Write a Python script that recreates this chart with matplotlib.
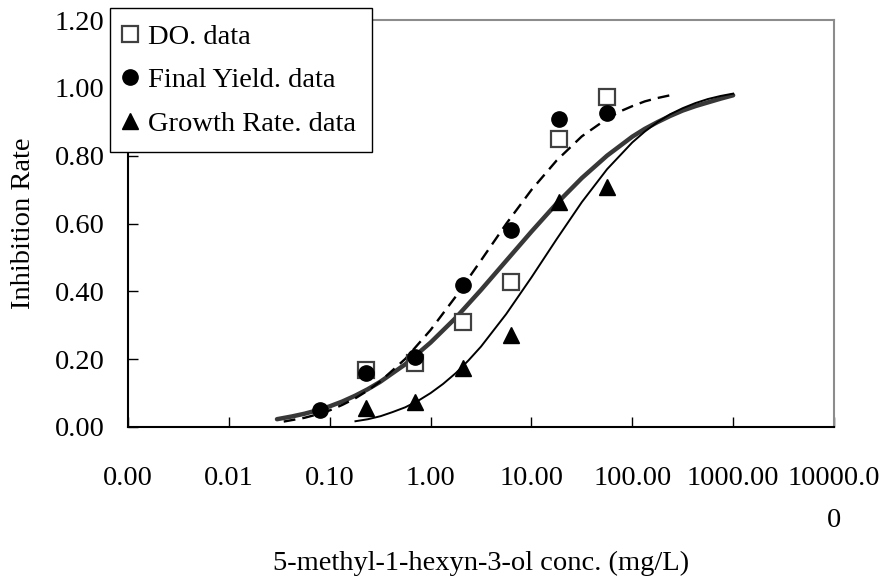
import matplotlib
matplotlib.use("Agg")
import matplotlib.pyplot as plt

plt.rcParams['font.family'] = ['Liberation Serif', 'DejaVu Serif']

# measured points (mg/L, inhibition rate)
conc = [0.08, 0.23, 0.70, 2.1, 6.3, 18.7, 56]
do_conc = [0.23, 0.70, 2.1, 6.3, 18.7, 56]
do_rate = [0.168, 0.19, 0.31, 0.428, 0.85, 0.973]
fy_rate = [0.05, 0.159, 0.206, 0.419, 0.581, 0.909, 0.926]
gr_conc = [0.23, 0.70, 2.1, 6.3, 18.7, 56]
gr_rate = [0.056, 0.074, 0.174, 0.271, 0.664, 0.708]

# fitted curves
do_fit_x = [0.03, 0.042, 0.056, 0.075, 0.1, 0.133, 0.178, 0.237, 0.316, 0.562,
            1.0, 1.78, 3.16, 5.62, 10, 17.8, 31.6, 56.2, 100, 133, 178, 237,
            316, 422, 562, 750, 1000]
do_fit_y = [0.023, 0.031, 0.039, 0.049, 0.061, 0.075, 0.092, 0.111, 0.133, 0.185,
            0.249, 0.322, 0.404, 0.490, 0.576, 0.659, 0.734, 0.800, 0.856, 0.879,
            0.899, 0.917, 0.933, 0.946, 0.957, 0.968, 0.978]
fy_fit_x = [0.035, 0.056, 0.075, 0.1, 0.133, 0.178, 0.237, 0.316, 0.562, 1.0,
            1.78, 3.16, 5.62, 10, 17.8, 31.6, 56.2, 75, 100, 133, 178, 237, 263]
fy_fit_y = [0.016, 0.027, 0.037, 0.049, 0.065, 0.084, 0.107, 0.134, 0.201, 0.286,
            0.385, 0.491, 0.599, 0.699, 0.786, 0.857, 0.909, 0.930, 0.946, 0.960,
            0.970, 0.978, 0.981]
gr_fit_x = [0.18, 0.24, 0.32, 0.42, 0.56, 0.75, 1.0, 1.33, 1.78, 2.37, 3.16,
            5.62, 10, 17.8, 31.6, 56.2, 100, 133, 178, 237, 316, 422, 562, 750,
            1000]
gr_fit_y = [0.017, 0.023, 0.032, 0.044, 0.058, 0.077, 0.100, 0.127, 0.159, 0.196,
            0.237, 0.333, 0.441, 0.554, 0.663, 0.760, 0.839, 0.871, 0.899, 0.922,
            0.940, 0.955, 0.967, 0.976, 0.983]

xticks = [0.001, 0.01, 0.1, 1, 10, 100, 1000, 10000]
xlabels = ['0.00', '0.01', '0.10', '1.00', '10.00', '100.00', '1000.00', '10000.0\n0']
yticks = [0.0, 0.2, 0.4, 0.6, 0.8, 1.0, 1.2]
fs = 20.5

dpi = 100
fig = plt.figure(figsize=(883/dpi, 585/dpi), dpi=dpi)
ax = fig.add_axes([128/883, 1-427/585, 706/883, 407/585])

ax.plot(do_fit_x, do_fit_y, color='#383838', lw=3.2, solid_capstyle='round',
        solid_joinstyle='round', zorder=2)
ax.plot(fy_fit_x, fy_fit_y, color='black', lw=1.7, dashes=(5, 3), zorder=2)
ax.plot(gr_fit_x, gr_fit_y, color='black', lw=1.4, solid_joinstyle='round', zorder=2)

ax.plot(do_conc, do_rate, ls='none', marker='s', ms=11, mfc='white',
        mec='#404040', mew=1.6, label='DO. data', zorder=3)
ax.plot(conc, fy_rate, ls='none', marker='o', ms=11, mfc='black',
        mec='black', label='Final Yield. data', zorder=3)
ax.plot(gr_conc, gr_rate, ls='none', marker='^', ms=11, mfc='black',
        mec='black', label='Growth Rate. data', zorder=3)

ax.set_xscale('log')
ax.set_xlim(0.001, 10000)
ax.set_ylim(0, 1.2)
ax.set_xticks(xticks)
ax.set_xticklabels(xlabels)
ax.minorticks_off()
ax.set_yticks(yticks)
ax.set_yticklabels(['%.2f' % v for v in yticks])
ax.tick_params(direction='in', length=7, width=1, labelsize=fs)
ax.tick_params(axis='x', pad=28)
ax.tick_params(axis='y', pad=17)
for lab in ax.get_xticklabels():
    lab.set_linespacing(1.9)

for s in ['left', 'bottom']:
    ax.spines[s].set_color('black')
    ax.spines[s].set_linewidth(1.5)
for s in ['top', 'right']:
    ax.spines[s].set_color('#8c8c8c')
    ax.spines[s].set_linewidth(1.5)

ax.set_xlabel('5-methyl-1-hexyn-3-ol conc. (mg/L)', fontsize=fs, va='center')
ax.xaxis.set_label_coords(0.5, (427-563)/407)
ax.set_ylabel('Inhibition Rate', fontsize=fs, va='center')
ax.yaxis.set_label_coords((23-128)/706, 0.5)

leg = ax.legend(loc='upper left', bbox_to_anchor=(110/883, 1-8/585),
                bbox_transform=fig.transFigure, borderaxespad=0, fontsize=fs,
                fancybox=False, framealpha=1, edgecolor='black',
                handlelength=0.3, handletextpad=0.5, borderpad=0.55,
                labelspacing=0.62, numpoints=1)
leg.get_frame().set_linewidth(1.0)
leg.set_zorder(5)

fig.savefig('out.png', dpi=dpi)
